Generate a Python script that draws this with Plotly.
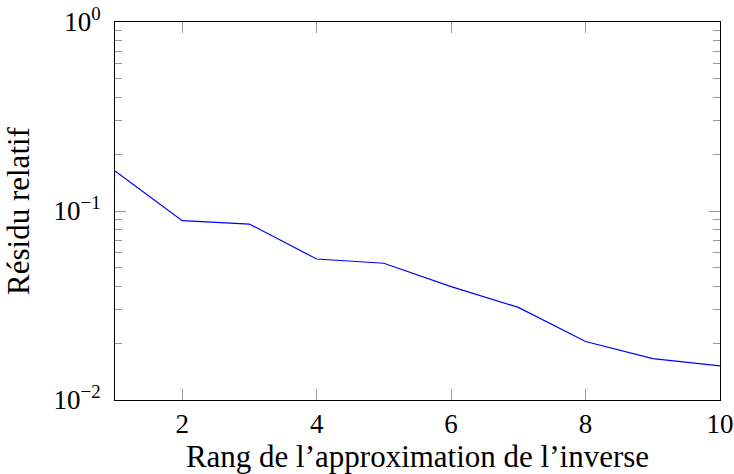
import plotly.graph_objects as go

# rang de l'approximation et residu relatif correspondant
rang = [1, 2, 3, 4, 5, 6, 7, 8, 9, 10]
residu = [0.163, 0.0889, 0.0853, 0.0557, 0.0529, 0.0398, 0.0309, 0.0204, 0.01655, 0.01514]

x_ticks = [2, 4, 6, 8, 10]
y_ticks = [0.01, 0.1, 1]
y_ticktext = ["10<sup>−2</sup>", "10<sup>−1</sup>", "10<sup>0</sup>"]
y_minor = [0.02, 0.03, 0.04, 0.05, 0.06, 0.07, 0.08, 0.09,
           0.2, 0.3, 0.4, 0.5, 0.6, 0.7, 0.8, 0.9]

fig = go.Figure(go.Scatter(
    x=rang, y=residu, mode="lines",
    line=dict(color="#0000ff", width=1.2),
    showlegend=False))

tickgrey = "#9a9a9a"
fig.update_layout(
    width=734, height=474,
    margin=dict(l=115, r=14, t=22, b=74),
    paper_bgcolor="white", plot_bgcolor="white",
    font=dict(family="Liberation Serif", size=26, color="black"),
    xaxis=dict(
        range=[1, 10], tickmode="array", tickvals=x_ticks,
        tickfont=dict(size=27), automargin=False, ticklabeloverflow="allow",
        ticks="inside", ticklen=11, tickcolor=tickgrey, tickwidth=1,
        showline=True, linecolor="black", linewidth=1, mirror="allticks",
        showgrid=False, zeroline=False,
        title=dict(text="Rang de l’approximation de l’inverse", standoff=18),
    ),
    yaxis=dict(
        type="log", range=[-2, 0], tickmode="array",
        tickvals=y_ticks, ticktext=y_ticktext,
        tickfont=dict(size=27), automargin=False, ticklabeloverflow="allow",
        ticklabelstandoff=8,
        ticks="inside", ticklen=11, tickcolor=tickgrey, tickwidth=1,
        minor=dict(tickmode="array", tickvals=y_minor, ticks="inside",
                   ticklen=7, tickcolor=tickgrey, tickwidth=1, showgrid=False),
        showline=True, linecolor="black", linewidth=1, mirror="allticks",
        showgrid=False, zeroline=False,
        title=dict(text="Résidu relatif", standoff=14),
    ),
)

# drop the default 8px body margin so the figure fills the window
fig.write_html("out.html", config={"displayModeBar": False},
               post_script="document.body.style.margin = '0';")
